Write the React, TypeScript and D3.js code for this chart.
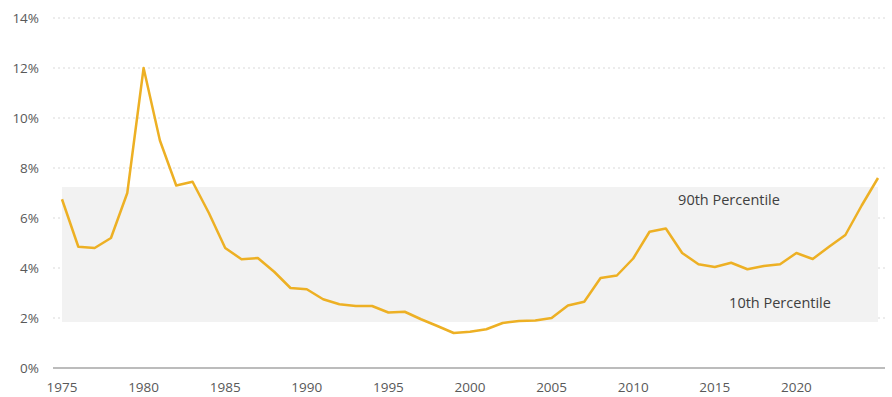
import { useEffect, useRef } from 'react';
import * as d3 from 'd3';

// annual values, %
const years = d3.range(1975, 2026);
const values = [
  6.75, 4.85, 4.8, 5.2, 7.0, 12.0, 9.1, 7.3, 7.45, 6.2,
  4.8, 4.35, 4.4, 3.85, 3.2, 3.15, 2.75, 2.55, 2.48, 2.48,
  2.22, 2.25, 1.95, 1.68, 1.4, 1.45, 1.55, 1.8, 1.88, 1.9,
  2.0, 2.5, 2.65, 3.6, 3.7, 4.38, 5.45, 5.58, 4.6, 4.15,
  4.04, 4.21, 3.95, 4.08, 4.15, 4.6, 4.36, 4.85, 5.32, 6.5,
  7.6,
];
const yTicks = [0, 2, 4, 6, 8, 10, 12, 14];
const xTicks = [1975, 1980, 1985, 1990, 1995, 2000, 2005, 2010, 2015, 2020];
const p90 = 7.24;
const p10 = 1.84;
const bandLabels = ['90th Percentile', '10th Percentile'];

const W = 892;
const H = 397;

export default function App() {
  const svgRef = useRef<SVGSVGElement>(null);

  useEffect(() => {
    if (!svgRef.current) return;
    const svg = d3.select(svgRef.current);
    svg.selectAll('*').remove();

    const x = d3.scaleLinear([1975, 2025], [62, 878]);
    const y = d3.scaleLinear([0, 14], [368, 18]);
    const gridL = 53;
    const gridR = 885;
    const font = '"Open Sans", "Noto Sans", sans-serif';

    // dotted grid
    svg.selectAll('.grid').data(yTicks.filter(d => d > 0)).join('line')
      .attr('x1', gridL).attr('x2', gridR)
      .attr('y1', d => y(d)).attr('y2', d => y(d))
      .attr('stroke', '#d9d9d9').attr('stroke-width', 1.2)
      .attr('stroke-dasharray', '2,3');

    // percentile band
    svg.append('rect')
      .attr('x', x(1975)).attr('width', x(2025) - x(1975))
      .attr('y', y(p90)).attr('height', y(p10) - y(p90))
      .attr('fill', '#f2f2f2');

    svg.append('text').attr('x', 729).attr('y', y(p90) + 18)
      .attr('text-anchor', 'middle').attr('font-family', font).attr('font-size', 14.5)
      .attr('fill', '#404040').text(bandLabels[0]);
    svg.append('text').attr('x', 780).attr('y', y(p10) - 14)
      .attr('text-anchor', 'middle').attr('font-family', font).attr('font-size', 14.5)
      .attr('fill', '#404040').text(bandLabels[1]);

    // axis baseline
    svg.append('line').attr('x1', gridL).attr('x2', gridR)
      .attr('y1', y(0)).attr('y2', y(0))
      .attr('stroke', '#a6a6a6').attr('stroke-width', 1.5);

    // y labels
    svg.selectAll('.ylab').data(yTicks).join('text')
      .attr('x', 39).attr('y', d => y(d)).attr('dy', '0.35em')
      .attr('text-anchor', 'end').attr('font-family', font).attr('font-size', 13.5)
      .attr('fill', '#595959').text(d => `${d}%`);

    // x labels
    svg.selectAll('.xlab').data(xTicks).join('text')
      .attr('x', d => x(d)).attr('y', 392)
      .attr('text-anchor', 'middle').attr('font-family', font).attr('font-size', 13.5)
      .attr('fill', '#595959').text(d => String(d));

    // series
    const line = d3.line<number>()
      .x((_, i) => x(years[i])).y(d => y(d));
    svg.append('path').datum(values).attr('d', line)
      .attr('fill', 'none').attr('stroke', '#edb024').attr('stroke-width', 2.5)
      .attr('stroke-linejoin', 'round');
  }, []);

  return (
    <svg ref={svgRef} width={W} height={H}
      style={{ position: 'absolute', left: 0, top: 0, background: '#fff' }} />
  );
}
